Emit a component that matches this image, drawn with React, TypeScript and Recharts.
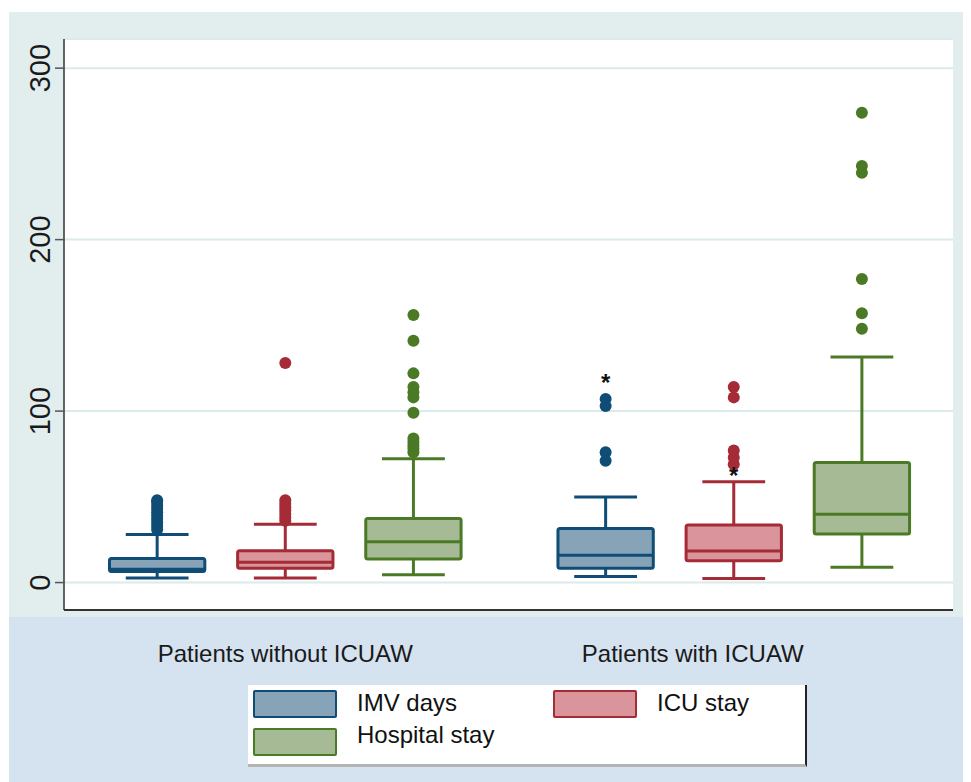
import React from 'react';
import { CartesianGrid, ComposedChart, ReferenceArea, ReferenceLine, Scatter, XAxis, YAxis } from 'recharts';

const groups = ['Patients without ICUAW', 'Patients with ICUAW'];
const seriesNames = ['IMV days', 'ICU stay', 'Hospital stay'];
const yTicks = [0, 100, 200, 300];

// [lower whisker, q1, median, q3, upper whisker] for each group
const imvBox = [
  [2.6, 6.4, 7.7, 14.0, 28.0],
  [3.6, 8.3, 16.0, 31.6, 49.9],
];
const icuBox = [
  [2.6, 8.3, 11.8, 18.5, 34.0],
  [2.4, 12.7, 18.4, 33.5, 58.8],
];
const hospBox = [
  [4.6, 13.7, 23.8, 37.4, 72.2],
  [9.0, 28.3, 39.8, 70.0, 131.5],
];

const imvOutliers = [
  [31, 33, 35, 37, 39, 41, 43, 45, 47, 48],
  [71, 76, 103, 107],
];
const icuOutliers = [
  [36, 38, 40, 42, 44, 46, 48, 128],
  [69, 73, 77, 108, 114],
];
const hospOutliers = [
  [76, 78, 80, 82, 84, 99, 108, 111, 114, 122, 141, 156],
  [148, 157, 177, 239, 243, 274],
];

// significance markers: [group, series, value]
const starMarks = [
  [1, 0, 120],
  [1, 1, 65.6],
];

const strokeColors = ['#0f4d76', '#a52b36', '#4a7a25'];
const fillColors = ['#87a3b8', '#d9959b', '#a6ba96'];

const boxes = [imvBox, icuBox, hospBox];
const outliers = [imvOutliers, icuOutliers, hospOutliers];

const FONT = '"Liberation Sans", Arial, sans-serif';
const BOX_HALF = 0.372;
const CAP_HALF = 0.245;
const groupLabelPos = [2, 5.18];

const pos = (g: number, s: number) => 1 + g * 3.5 + s;

const YTick = (props: any) => {
  const { x, y, payload } = props;
  const tx = x - 15;
  return (
    <text
      x={tx}
      y={y}
      transform={`rotate(-90, ${tx}, ${y})`}
      textAnchor="middle"
      dominantBaseline="central"
      fontSize={29}
      fontFamily={FONT}
      fill="#1a1a1a"
    >
      {payload.value}
    </text>
  );
};

const XTick = (props: any) => {
  const { x, y, index } = props;
  return (
    <text x={x} y={y + 41} textAnchor="middle" dominantBaseline="central" fontSize={24} fontFamily={FONT} fill="#1a1a1a">
      {groups[index]}
    </text>
  );
};

function Legend() {
  return (
    <div
      style={{
        position: 'absolute',
        left: 240,
        top: 677,
        width: 557,
        height: 79,
        background: '#fff',
        borderRight: '2px solid #222',
        borderBottom: '3px solid #b4b4b4',
        fontFamily: FONT,
        fontSize: 24,
        color: '#111',
      }}
    >
      {seriesNames.map((name, i) => {
        const col = i % 2;
        const row = Math.floor(i / 2);
        return (
          <div key={name} style={{ position: 'absolute', left: 5 + col * 300, top: 5 + row * 38 }}>
            <div
              style={{
                position: 'absolute',
                left: 0,
                top: 0,
                width: 80,
                height: 24,
                background: fillColors[i],
                border: `2px solid ${strokeColors[i]}`,
                borderRadius: 2,
              }}
            />
            <div style={{ position: 'absolute', left: 104, top: row === 0 ? -1 : -7, whiteSpace: 'nowrap' }}>{name}</div>
          </div>
        );
      })}
    </div>
  );
}

export default function App() {
  return (
    <div style={{ position: 'relative', width: 963, height: 774, fontFamily: FONT }}>
      <div style={{ position: 'absolute', left: 1, top: 4, width: 962, height: 605, background: '#e2eeee' }} />
      <div style={{ position: 'absolute', left: 1, top: 609, width: 962, height: 165, background: '#d5e2f0' }} />
      <div style={{ position: 'absolute', left: 0, top: 0 }}>
        <ComposedChart width={963} height={774} margin={{ top: 31, right: 18, bottom: 132, left: 0 }}>
          <CartesianGrid vertical={false} stroke="#dbeaea" strokeWidth={2} fill="#ffffff" fillOpacity={1} />
          <XAxis
            type="number"
            dataKey="x"
            domain={[0.273, 7.211]}
            allowDataOverflow
            ticks={groupLabelPos}
            tick={<XTick />}
            tickLine={false}
            tickSize={0}
            height={40}
            axisLine={{ stroke: '#333', strokeWidth: 2 }}
          />
          <YAxis
            type="number"
            dataKey="y"
            domain={[-16, 317]}
            allowDataOverflow
            ticks={yTicks}
            tick={<YTick />}
            tickSize={9}
            tickMargin={0}
            width={56}
            tickLine={{ stroke: '#555', strokeWidth: 1.5 }}
            axisLine={{ stroke: '#333', strokeWidth: 1.5 }}
          />
          {boxes.map((series, s) =>
            series.map((b, g) => {
              const c = pos(g, s);
              const [lo, q1, med, q3, hi] = b;
              return (
                <React.Fragment key={`b${s}-${g}`}>
                  <ReferenceArea
                    x1={c - BOX_HALF}
                    x2={c + BOX_HALF}
                    y1={q1}
                    y2={q3}
                    fill={fillColors[s]}
                    fillOpacity={1}
                    stroke={strokeColors[s]}
                    strokeWidth={3}
                    radius={2}
                  />
                  <ReferenceLine segment={[{ x: c - BOX_HALF, y: med }, { x: c + BOX_HALF, y: med }]} stroke={strokeColors[s]} strokeWidth={3} />
                  <ReferenceLine segment={[{ x: c, y: q3 }, { x: c, y: hi }]} stroke={strokeColors[s]} strokeWidth={3} />
                  <ReferenceLine segment={[{ x: c, y: lo }, { x: c, y: q1 }]} stroke={strokeColors[s]} strokeWidth={3} />
                  <ReferenceLine segment={[{ x: c - CAP_HALF, y: hi }, { x: c + CAP_HALF, y: hi }]} stroke={strokeColors[s]} strokeWidth={3} />
                  <ReferenceLine segment={[{ x: c - CAP_HALF, y: lo }, { x: c + CAP_HALF, y: lo }]} stroke={strokeColors[s]} strokeWidth={3} />
                </React.Fragment>
              );
            })
          )}
          {outliers.map((series, s) => (
            <Scatter
              key={`o${s}`}
              name={seriesNames[s]}
              data={series.flatMap((vals, g) => vals.map((v) => ({ x: pos(g, s), y: v })))}
              isAnimationActive={false}
              shape={(p: any) => <circle cx={p.cx} cy={p.cy} r={6} fill={strokeColors[s]} />}
            />
          ))}
          <Scatter
            data={starMarks.map(([g, s, v]) => ({ x: pos(g, s), y: v }))}
            isAnimationActive={false}
            shape={(p: any) => (
              <text x={p.cx} y={p.cy + 14} textAnchor="middle" fontSize={24} fontWeight="bold" fontFamily={FONT} fill="#111">
                *
              </text>
            )}
          />
        </ComposedChart>
      </div>
      <Legend />
    </div>
  );
}
